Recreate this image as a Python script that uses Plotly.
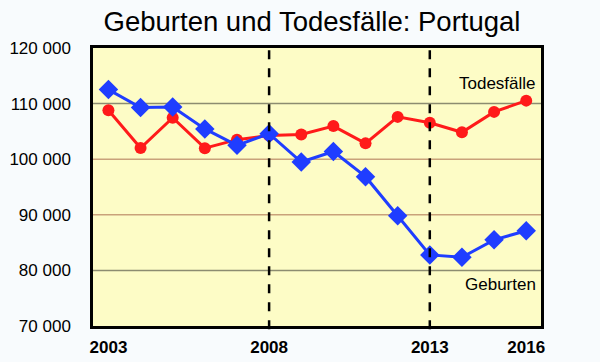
import plotly.graph_objects as go

years = list(range(2003, 2017))
geburten = [112515, 109298, 109399, 105449, 102492, 104594, 99491, 101381, 96856, 89841, 82787, 82367, 85500, 87126]
todesfaelle = [108795, 102012, 107462, 101990, 103512, 104280, 104434, 105954, 102848, 107612, 106554, 104843, 108511, 110535]

y_tickvals = [70000, 80000, 90000, 100000, 110000, 120000]
y_ticktext = ["70 000", "80 000", "90 000", "100 000", "110 000", "120 000"]
x_tickvals = [2003, 2008, 2013, 2016]
x_ticktext = ["2003", "2008", "2013", "2016"]
dashed_years = [2008, 2013]
grid_values = [80000, 90000, 100000, 110000]
grid_colors = ["#8c8c70", "#c9a27a", "#c9a27a", "#8c8c70"]

fig = go.Figure()
fig.add_trace(go.Scatter(
    x=years, y=todesfaelle, mode="lines+markers",
    line=dict(color="#ff1a1a", width=3),
    marker=dict(symbol="circle", size=12, color="#ff1a1a"),
    showlegend=False))
fig.add_trace(go.Scatter(
    x=years, y=geburten, mode="lines+markers",
    line=dict(color="#1f3dff", width=3),
    marker=dict(symbol="diamond", size=15, color="#1f3dff"),
    showlegend=False))

shapes = []
for v, c in zip(grid_values, grid_colors):
    shapes.append(dict(type="line", xref="paper", x0=0, x1=1, yref="y", y0=v, y1=v,
                       line=dict(color=c, width=1.5), layer="below"))
for yr in dashed_years:
    shapes.append(dict(type="line", xref="x", x0=yr, x1=yr, yref="paper", y0=-0.012, y1=1,
                       line=dict(color="black", width=2.5, dash="dash")))

fig.update_layout(
    width=600, height=362,
    margin=dict(l=93, r=59, t=48, b=36, autoexpand=False),
    paper_bgcolor="#f8fbfd",
    plot_bgcolor="#fdfcc6",
    font=dict(family="Liberation Sans, Arial, sans-serif", color="black"),
    title=dict(text="Geburten und Todesfälle: Portugal", x=0.52, xanchor="center",
               y=0.94, yanchor="middle", font=dict(size=27.5, color="black")),
    shapes=shapes,
    annotations=[
        dict(x=2016.38, y=113600, xref="x", yref="y", text="Todesfälle", showarrow=False,
             xanchor="right", yanchor="middle", font=dict(size=17, color="black")),
        dict(x=2016.38, y=77500, xref="x", yref="y", text="Geburten", showarrow=False,
             xanchor="right", yanchor="middle", font=dict(size=17, color="black")),
    ],
)
fig.update_xaxes(range=[2002.52, 2016.46], tickvals=x_tickvals, ticktext=x_ticktext,
                 showgrid=False, zeroline=False, showline=True, linecolor="black",
                 linewidth=2.5, mirror=True, ticks="", ticklabelstandoff=4, automargin=False,
                 tickfont=dict(size=17, family="Liberation Sans, Arial", weight="bold"))
fig.update_yaxes(range=[70000, 120000], tickvals=y_tickvals, ticktext=y_ticktext,
                 showgrid=False, zeroline=False, showline=True, linecolor="black",
                 linewidth=2.5, mirror=True, ticks="", ticklabelstandoff=16, automargin=False,
                 tickfont=dict(size=17))

fig.write_html("out.html", config={"displayModeBar": False},
               post_script="document.body.style.margin='0';document.body.style.background='#f8fbfd';")
